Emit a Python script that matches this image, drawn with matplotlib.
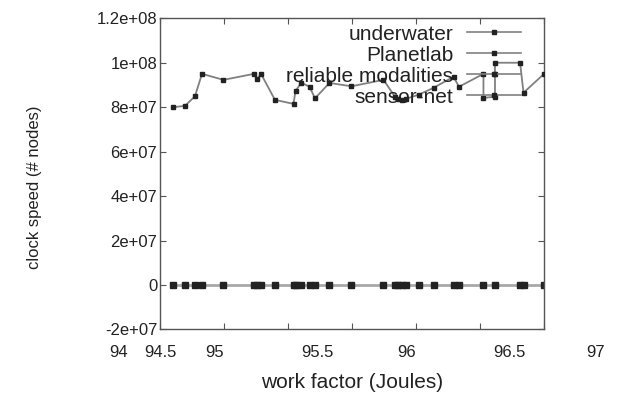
import matplotlib
matplotlib.use("Agg")
import matplotlib.pyplot as plt
from matplotlib.lines import Line2D

plt.rcParams['font.family'] = ['Liberation Sans', 'DejaVu Sans']

# shared x positions (work factor, Joules)
x_vals = [94.105, 94.195, 94.273, 94.328, 94.496, 94.734, 94.758, 94.789, 94.898,
          95.043, 95.059, 95.105, 95.168, 95.211, 95.324, 95.496, 95.746, 95.836,
          95.859, 95.891, 95.922, 96.020, 96.137, 96.293, 96.336, 96.527, 96.617,
          96.813, 96.840, 97.0]

# upper series path (clock speed)
upper_x = [94.105, 94.195, 94.273, 94.328, 94.496, 94.734, 94.758, 94.789, 94.898,
           95.043, 95.059, 95.105, 95.168, 95.211, 95.324, 95.496, 95.746, 95.836,
           95.859, 95.891, 95.922, 96.020, 96.137, 96.293, 96.336, 96.527, 96.527,
           96.617, 96.617, 96.617, 96.813, 96.840, 97.0]
upper_y = [8.00e7, 8.06e7, 8.49e7, 9.50e7, 9.23e7, 9.50e7, 9.26e7, 9.50e7, 8.33e7,
           8.15e7, 8.74e7, 9.10e7, 8.92e7, 8.40e7, 9.09e7, 8.94e7, 9.23e7, 8.47e7,
           8.38e7, 8.33e7, 8.38e7, 8.56e7, 8.87e7, 9.37e7, 8.92e7, 9.50e7, 8.42e7,
           8.47e7, 9.50e7, 1.00e8, 1.00e8, 8.65e7, 9.50e7]

# lower series (all zero)
zero_y = [0] * len(x_vals)

legend_labels = ["underwater", "Planetlab", "reliable modalities", "sensor-net"]

x_ticks = [94, 94.5, 95, 95.5, 96, 96.5, 97]
x_tick_labels = ["94", "94.5", "95", "95.5", "96", "96.5", "97"]
# where the reference prints the x tick labels (axes fraction)
x_label_pos = [-0.109, 0.0, 0.143, 0.411, 0.643, 0.911, 1.133]

y_ticks = [-2e7, 0, 2e7, 4e7, 6e7, 8e7, 1e8, 1.2e8]
y_tick_labels = ["-2e+07", "0", "2e+07", "4e+07", "6e+07", "8e+07", "1e+08", "1.2e+08"]

fig = plt.figure(figsize=(6.2, 3.98), dpi=100)
ax = fig.add_axes([160/620, 1-329.4/398, 384/620, 311.1/398])

ax.plot(x_vals, zero_y, color='#a8a8a8', lw=2.0, marker='s', ms=4.5,
        mfc='#222222', mec='#222222', zorder=2)
ax.plot(upper_x, upper_y, color='#808080', lw=1.3, marker='s', ms=2.6,
        mfc='#222222', mec='#222222', zorder=3)

ax.set_xlim(94, 97)
ax.set_ylim(-2e7, 1.2e8)
ax.set_xticks(x_ticks)
ax.set_xticklabels([])
ax.set_yticks(y_ticks)
ax.set_yticklabels(y_tick_labels, fontsize=12)
ax.tick_params(axis='both', direction='in', length=4, width=0.8, color='#555555',
               top=True, right=True, pad=2)
ax.tick_params(axis='y', labelcolor='#222222')
for sp in ax.spines.values():
    sp.set_color('#555555')
    sp.set_linewidth(1.0)

for lab, pos in zip(x_tick_labels, x_label_pos):
    ax.text(pos, -0.075, lab, transform=ax.transAxes, ha='center', va='center',
            fontsize=12, color='#222222', clip_on=False)

fig.text(352/620, 1-383/398, "work factor (Joules)", ha='center', va='center',
         fontsize=15, color='#222222')
fig.text(35/620, 1-187/398, "clock speed (# nodes)", ha='center', va='center',
         rotation=90, fontsize=12, color='#222222')

handles = [Line2D([0], [0], color='#808080', lw=1.2, marker='s', ms=2.5,
                  mfc='#222222', mec='#222222') for _ in legend_labels]
leg = ax.legend(handles, legend_labels, loc='upper right',
                bbox_to_anchor=(0.94, 0.98), frameon=False, markerfirst=False,
                fontsize=15, handlelength=2.6, handletextpad=0.65,
                labelspacing=0.1, borderpad=0, borderaxespad=0, numpoints=1)
for t in leg.get_texts():
    t.set_color('#222222')

fig.savefig("out.png", dpi=100)
